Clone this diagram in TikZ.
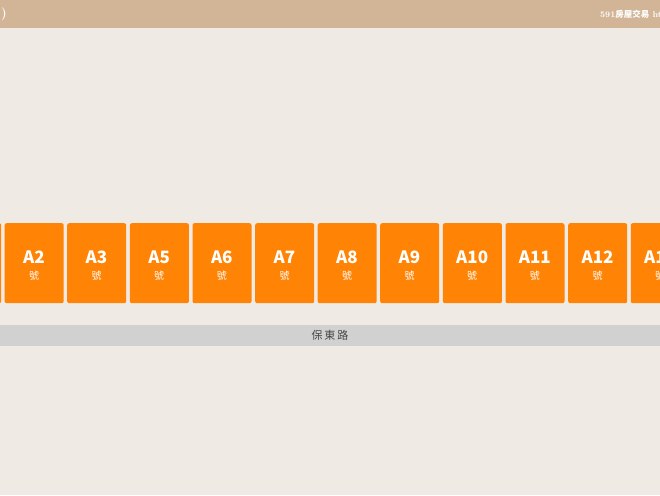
\documentclass[tikz,border=0pt]{standalone}
\usepackage{fontspec}
\newfontfamily\cjk{Noto Sans CJK TC}
\definecolor{bgc}{RGB}{240,234,228}
\definecolor{hdr}{RGB}{210,181,151}
\definecolor{lot}{RGB}{255,132,5}
\definecolor{road}{RGB}{209,209,209}
\definecolor{roadtxt}{RGB}{70,70,70}
\tikzset{
  lotbox/.style={fill=lot, rounded corners=2pt, minimum width=59pt, minimum height=80pt, inner sep=0pt, anchor=north west},
  lotnum/.style={text=white, font=\cjk\bfseries\fontsize{17}{17}\selectfont, inner sep=0pt},
  lotsub/.style={text=white, font=\cjk\fontsize{10}{10}\selectfont, inner sep=0pt},
  hdrtext/.style={text=white, font=\bfseries\fontsize{8.5}{8.5}\selectfont, inner sep=0pt}
}
\begin{document}
\begin{tikzpicture}[x=1pt,y=-1pt]
\useasboundingbox (0,0) rectangle (660,495);
\clip (0,0) rectangle (660,495);
\fill[bgc] (0,0) rectangle (660,495);
\fill[hdr] (0,0) rectangle (660,28);
\node[text=white, font=\bfseries\fontsize{13}{13}\selectfont, inner sep=0pt, anchor=west] (htl) at (1,14) {)};
\node[hdrtext, anchor=west] (htr) at (600,15) {591{\cjk 房屋交易} http};
% lots
\node[lotbox] (L0) at (-58,223) {};
\foreach \n/\x in {A2/4.5, A3/67, A5/129.7, A6/192.3, A7/255, A8/317.5, A9/380, A10/442.7, A11/505.3, A12/568, A13/630.6}{
  \node[lotbox] (L\n) at (\x,223) {};
  \node[lotnum] (N\n) at (\x+29.5,257) {\n};
  \node[lotsub] (S\n) at (\x+29.5,276) {號};
}
% road
\fill[road] (0,325) rectangle (660,346);
\node[text=roadtxt, font=\cjk\fontsize{11}{11}\selectfont, inner sep=0pt] (rd) at (330,335.5) {保\,東\,路};
\end{tikzpicture}
\end{document}
